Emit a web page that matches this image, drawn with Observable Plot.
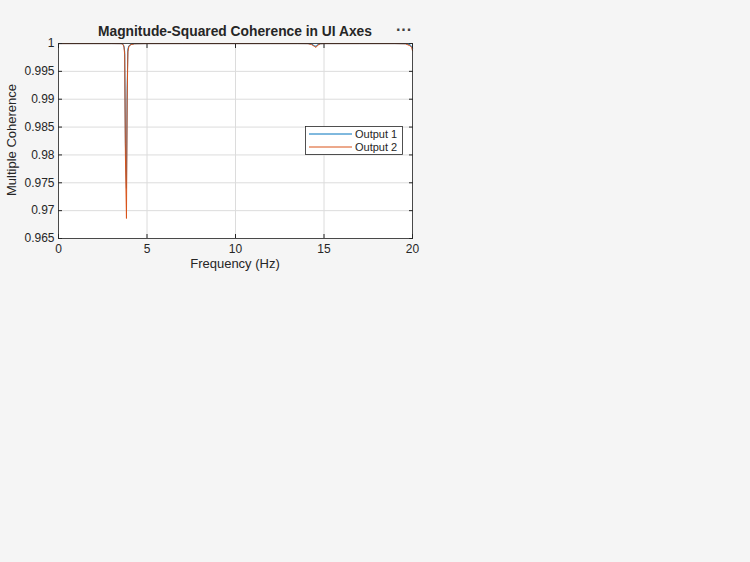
<!DOCTYPE html>
<html>
<head>
<meta charset="utf-8">
<script src="https://cdn.jsdelivr.net/npm/d3@7"></script>
<script src="https://cdn.jsdelivr.net/npm/@observablehq/plot@0.6"></script>
<style>
  html, body { margin: 0; padding: 0; background: #f5f5f5; }
  #chart { width: 750px; height: 562px; }
  svg { font-family: "Liberation Sans", Arial, sans-serif; }
</style>
</head>
<body>
<div id="chart"></div>
<script>
const freq    = [0, 1, 2, 3, 3.5, 3.6, 3.66, 3.70, 3.74, 3.78, 3.84, 3.88, 3.92, 3.98, 4.1, 4.3, 5, 7, 10, 12, 13.5, 14.1, 14.3, 14.45, 14.55, 14.65, 14.8, 15, 17, 19, 19.6, 19.85, 19.95, 20];
const output1 = [0.99998, 0.99998, 0.99998, 0.99998, 0.99997, 0.99995, 0.9998, 0.9995, 0.9985, 0.9820, 0.9740, 0.9920, 0.9990, 0.9996, 0.99985, 0.99995, 0.99998, 0.99998, 0.99998, 0.99998, 0.99998, 0.99997, 0.9999, 0.9996, 0.9995, 0.9998, 0.99995, 0.99998, 0.99998, 0.99998, 0.99996, 0.9998, 0.9995, 0.9992];
const output2 = [0.99998, 0.99998, 0.99998, 0.99998, 0.99997, 0.99995, 0.9997, 0.9993, 0.9980, 0.9800, 0.9686, 0.9900, 0.9985, 0.9995, 0.9998, 0.99995, 0.99998, 0.99998, 0.99998, 0.99998, 0.99998, 0.99997, 0.9998, 0.9995, 0.9993, 0.9997, 0.99995, 0.99998, 0.99998, 0.99998, 0.99995, 0.9996, 0.9993, 0.9987];
const seriesNames = ["Output 1", "Output 2"];
const seriesColors = ["#0072BD", "#D95319"];
const xTicks = [0, 5, 10, 15, 20];
const yTicks = [0.965, 0.97, 0.975, 0.98, 0.985, 0.99, 0.995, 1];
const yTickLabels = ["0.965", "0.97", "0.975", "0.98", "0.985", "0.99", "0.995", "1"];
const titleText = "Magnitude-Squared Coherence in UI Axes";
const xLabel = "Frequency (Hz)";
const yLabel = "Multiple Coherence";

const rows = [];
[output1, output2].forEach((vals, s) => {
  vals.forEach((v, i) => rows.push({f: freq[i], c: v, series: seriesNames[s]}));
});

const ink = "#262626";
const plot = Plot.plot({
  width: 750,
  height: 562,
  marginLeft: 58,
  marginRight: 338,
  marginTop: 43,
  marginBottom: 324,
  style: {background: "transparent", fontFamily: "Liberation Sans, Arial, sans-serif", fontSize: "12px", color: ink},
  x: {domain: [0, 20], ticks: xTicks, label: null},
  y: {domain: [0.965, 1], ticks: yTicks, label: null},
  color: {domain: seriesNames, range: seriesColors},
  marks: [
    Plot.frame({fill: "white", stroke: null}),
    Plot.gridX(xTicks, {stroke: "#dcdcdc", strokeOpacity: 1}),
    Plot.gridY(yTicks, {stroke: "#dcdcdc", strokeOpacity: 1}),
    Plot.line(rows, {x: "f", y: "c", stroke: "series", z: "series", strokeWidth: 1}),
    Plot.frame({stroke: ink, strokeWidth: 0.8}),
    Plot.axisX(xTicks, {anchor: "bottom", tickSize: 4, dy: -4, text: null, label: null, stroke: ink}),
    Plot.axisX(xTicks, {anchor: "top", tickSize: 4, dy: 4, text: null, label: null, stroke: ink}),
    Plot.axisY(yTicks, {anchor: "left", tickSize: 4, dx: 4, text: null, label: null, stroke: ink}),
    Plot.axisY(yTicks, {anchor: "right", tickSize: 4, dx: -4, text: null, label: null, stroke: ink}),
    Plot.axisX(xTicks, {anchor: "bottom", tickSize: 0, tickPadding: 6, label: null, fill: ink, fontSize: 12}),
    Plot.axisY(yTicks, {anchor: "left", tickSize: 0, tickPadding: 4, label: null, fill: ink, fontSize: 12, tickFormat: (d) => yTickLabels[yTicks.indexOf(d)]})
  ]
});

document.getElementById("chart").appendChild(plot);
const svg = d3.select(plot);

svg.append("text").attr("x", 235).attr("y", 36).attr("text-anchor", "middle")
  .attr("font-size", 13.8).attr("font-weight", "bold").attr("fill", ink).text(titleText);
svg.append("text").attr("x", 404).attr("y", 35).attr("text-anchor", "middle")
  .attr("font-size", 16).attr("font-weight", "bold").attr("fill", "#404040").text("···");
svg.append("text").attr("x", 235).attr("y", 268).attr("text-anchor", "middle")
  .attr("font-size", 13).attr("fill", ink).text(xLabel);
svg.append("text").attr("transform", "translate(16,140) rotate(-90)").attr("text-anchor", "middle")
  .attr("font-size", 13).attr("fill", ink).text(yLabel);

const lg = svg.append("g");
lg.append("rect").attr("x", 305.5).attr("y", 126.5).attr("width", 97).attr("height", 28)
  .attr("fill", "white").attr("stroke", ink).attr("stroke-width", 0.8);
seriesNames.forEach((n, i) => {
  const yy = 134 + i * 13;
  lg.append("line").attr("x1", 309).attr("x2", 352).attr("y1", yy).attr("y2", yy)
    .attr("stroke", seriesColors[i]).attr("stroke-width", 1);
  lg.append("text").attr("x", 355).attr("y", yy + 4).attr("text-anchor", "start")
    .attr("font-size", 11).attr("fill", ink).text(n);
});
</script>
</body>
</html>
